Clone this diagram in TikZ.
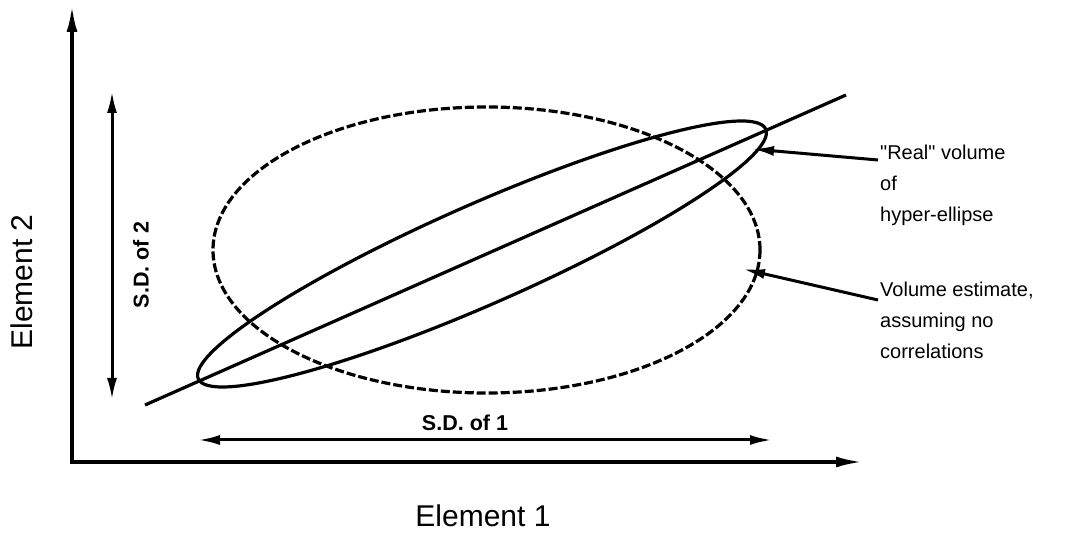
\documentclass[tikz,border=0pt]{standalone}
\usepackage{fontspec}
\setmainfont{Liberation Sans}[Ligatures=TeXOff]
\usetikzlibrary{arrows.meta}
\begin{document}
\begin{tikzpicture}[x=1pt,y=-1pt,
  axis/.style={line width=3.2pt,{Latex[length=26pt,width=11pt]}-{Latex[length=26pt,width=11pt]}},
  dim/.style={line width=3pt,{Latex[length=22pt,width=10pt]}-{Latex[length=22pt,width=10pt]}},
  ptr/.style={line width=3pt,-{Latex[length=22pt,width=10pt]}},
  curve/.style={line width=3.2pt},
  dashcurve/.style={line width=3.2pt,dash pattern=on 9pt off 3pt},
  big/.style={font=\fontsize{30}{36}\selectfont,inner sep=0pt},
  sd/.style={font=\fontsize{21.5}{25}\selectfont\bfseries,inner sep=0pt},
  lbl/.style={font=\fontsize{20}{31}\selectfont,align=left,inner sep=0pt,anchor=base west}
]
\useasboundingbox (0,0) rectangle (1082,534);
% axes
\coordinate (O) at (72,462);
\coordinate (Ytip) at (72,6);
\coordinate (Xtip) at (862,462);
\draw[axis] (Ytip) -- (O) -- (Xtip);
\node[big,rotate=90] (e2) at (22,282) {Element 2};
\node[big] (e1) at (483,516) {Element 1};
% S.D. arrows
\coordinate (sd2a) at (112,91);
\coordinate (sd2b) at (112,400);
\draw[dim] (sd2a) -- (sd2b);
\node[sd,rotate=90] (sd2) at (141,265) {S.D. of 2};
\coordinate (sd1a) at (198,440);
\coordinate (sd1b) at (772,440);
\draw[dim] (sd1a) -- (sd1b);
\node[sd] (sd1) at (465,423) {S.D. of 1};
% regression line
\coordinate (la) at (145,405);
\coordinate (lb) at (846,95);
\draw[curve] (la) -- (lb);
% ellipses
\coordinate (ec) at (482,254);
\draw[curve, rotate around={23.75:(ec)}] (ec) ellipse [x radius=310, y radius=50];
\coordinate (dc) at (486.5,250);
\draw[dashcurve] (dc) ellipse [x radius=273.5, y radius=143];
% labels
\node[lbl] (real) at (880,222) {"Real" volume\\of\\hyper-ellipse};
\node[lbl] (vol) at (880,359) {Volume estimate,\\assuming no\\correlations};
\coordinate (realtail) at (878,160);
\coordinate (realtip) at (752,149);
\coordinate (voltail) at (878,300);
\coordinate (voltip) at (743,269);
\draw[ptr] (realtail) -- (realtip);
\draw[ptr] (voltail) -- (voltip);
\end{tikzpicture}
\end{document}
